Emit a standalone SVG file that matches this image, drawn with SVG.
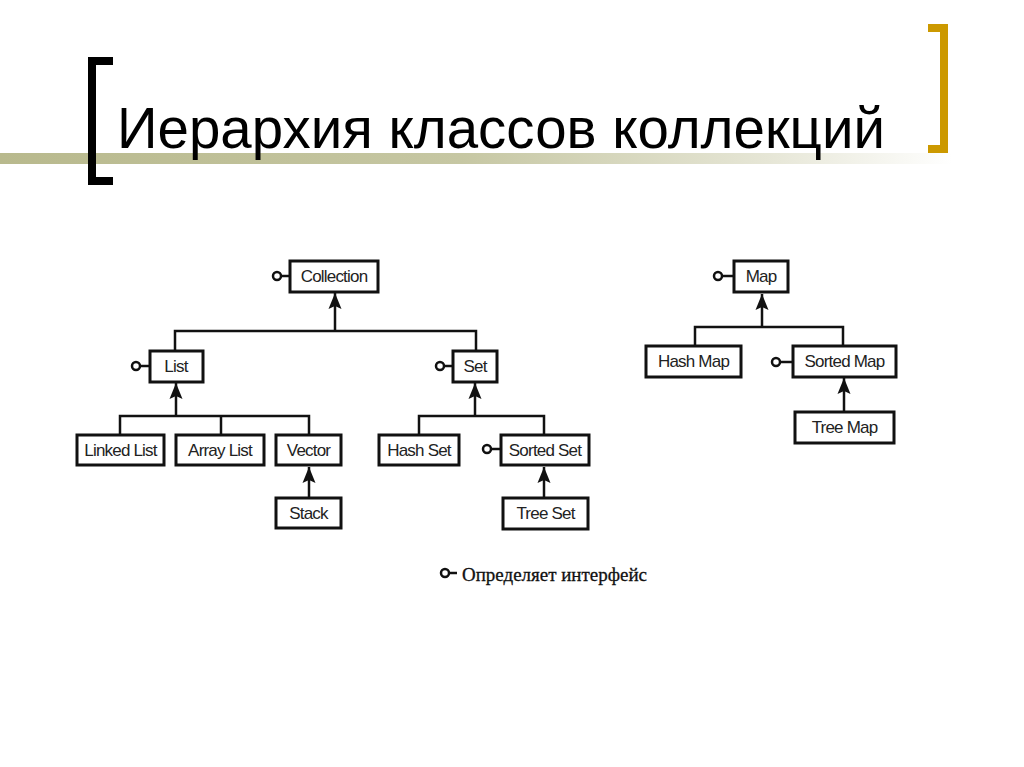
<svg xmlns="http://www.w3.org/2000/svg" width="1024" height="767" viewBox="0 0 1024 767">
<defs>
<linearGradient id="band" x1="0" y1="0" x2="1024" y2="0" gradientUnits="userSpaceOnUse">
<stop offset="0" stop-color="#B8B98D"/>
<stop offset="0.45" stop-color="#C6C7A3"/>
<stop offset="0.75" stop-color="#E6E6D6"/>
<stop offset="0.93" stop-color="#FFFFFF"/>
</linearGradient>
<marker id="arr" markerUnits="userSpaceOnUse" markerWidth="18" markerHeight="16" viewBox="0 0 18 16" refX="17" refY="8" orient="auto">
<path d="M17,8 L1,1.5 L4,8 L1,14.5 Z" fill="#111"/>
</marker>
<style>
.box{fill:#fff;stroke:#111;stroke-width:3}
.lbl{font-family:"Liberation Sans",Arial,sans-serif;font-size:17px;letter-spacing:-0.8px;fill:#222;text-anchor:middle}
.ln{stroke:#111;stroke-width:2.5;fill:none}
.ar{stroke:#111;stroke-width:2.5;fill:none;marker-end:url(#arr)}
.lol{fill:#fff;stroke:#111;stroke-width:2.5}
</style>
</defs>
<rect width="1024" height="767" fill="#fff"/>
<g id="title">
<rect x="0" y="153" width="1024" height="11" fill="url(#band)"/>
<path d="M88,57 H113 V65 H96 V177 H113 V185 H88 Z" fill="#000"/>
<path d="M928,24 H948 V153 H928 V145 H940 V32 H928 Z" fill="#CC9900"/>
<text x="117" y="148" font-family="'Liberation Sans',Arial,sans-serif" font-size="58" fill="#000" textLength="768" lengthAdjust="spacingAndGlyphs">Иерархия классов коллекций</text>
</g>
<g id="connectors">
<line class="ar" x1="335" y1="331" x2="335" y2="293"/>
<polyline class="ln" points="175,350 175,331 476,331 476,350"/>
<line class="ar" x1="176" y1="416" x2="176" y2="383"/>
<polyline class="ln" points="120,434 120,416 309,416 309,434"/>
<line class="ln" x1="221" y1="416" x2="221" y2="434"/>
<line class="ar" x1="309" y1="498" x2="309" y2="467"/>
<line class="ar" x1="475" y1="416" x2="475" y2="383"/>
<polyline class="ln" points="419,434 419,416 544,416 544,434"/>
<line class="ar" x1="544" y1="497" x2="544" y2="467"/>
<line class="ar" x1="762" y1="327" x2="762" y2="294"/>
<polyline class="ln" points="695,346 695,327 843,327 843,346"/>
<line class="ar" x1="844" y1="412" x2="844" y2="378"/>
</g>
<g id="collection">
<line class="ln" x1="280" y1="276" x2="290" y2="276"/>
<circle class="lol" cx="277" cy="276" r="4"/>
<rect class="box" x="290" y="261" width="88" height="31"/>
<text class="lbl" x="334" y="282">Collection</text>
</g>
<g id="list">
<line class="ln" x1="139" y1="366" x2="149" y2="366"/>
<circle class="lol" cx="136" cy="366" r="4"/>
<rect class="box" x="150" y="351" width="53" height="31"/>
<text class="lbl" x="176" y="372">List</text>
</g>
<g id="set">
<line class="ln" x1="443" y1="366" x2="453" y2="366"/>
<circle class="lol" cx="440" cy="366" r="4"/>
<rect class="box" x="453" y="351" width="44" height="31"/>
<text class="lbl" x="475" y="372">Set</text>
</g>
<g id="linkedlist">
<rect class="box" x="77" y="435" width="87" height="30"/>
<text class="lbl" x="120.5" y="456">Linked List</text>
</g>
<g id="arraylist">
<rect class="box" x="176" y="435" width="88" height="30"/>
<text class="lbl" x="220" y="456">Array List</text>
</g>
<g id="vector">
<rect class="box" x="276" y="435" width="65" height="30"/>
<text class="lbl" x="308.5" y="456">Vector</text>
</g>
<g id="stack">
<rect class="box" x="276" y="498" width="65" height="30"/>
<text class="lbl" x="308.5" y="519">Stack</text>
</g>
<g id="hashset">
<rect class="box" x="379" y="435" width="80" height="30"/>
<text class="lbl" x="419" y="456">Hash Set</text>
</g>
<g id="sortedset">
<line class="ln" x1="490" y1="449" x2="500" y2="449"/>
<circle class="lol" cx="487" cy="449" r="4"/>
<rect class="box" x="501" y="435" width="88" height="30"/>
<text class="lbl" x="545" y="456">Sorted Set</text>
</g>
<g id="treeset">
<rect class="box" x="503" y="498" width="85" height="31"/>
<text class="lbl" x="545.5" y="519">Tree Set</text>
</g>
<g id="map">
<line class="ln" x1="721" y1="276" x2="733" y2="276"/>
<circle class="lol" cx="718" cy="276" r="4"/>
<rect class="box" x="734" y="261" width="54" height="31"/>
<text class="lbl" x="761" y="282">Map</text>
</g>
<g id="hashmap">
<rect class="box" x="646" y="346" width="95" height="31"/>
<text class="lbl" x="693.5" y="367">Hash Map</text>
</g>
<g id="sortedmap">
<line class="ln" x1="779" y1="362" x2="792" y2="362"/>
<circle class="lol" cx="776" cy="362" r="4"/>
<rect class="box" x="793" y="346" width="103" height="31"/>
<text class="lbl" x="844.5" y="367">Sorted Map</text>
</g>
<g id="treemap">
<rect class="box" x="795" y="412" width="99" height="31"/>
<text class="lbl" x="844.5" y="433">Tree Map</text>
</g>
<g id="legend">
<line class="ln" x1="448" y1="573" x2="457" y2="573"/>
<circle class="lol" cx="445" cy="573" r="4"/>
<text x="462" y="581" font-family="'Liberation Serif','Times New Roman',serif" font-size="19" fill="#111" stroke="#111" stroke-width="0.3" textLength="185" lengthAdjust="spacingAndGlyphs">Определяет интерфейс</text>
</g>
</svg>
